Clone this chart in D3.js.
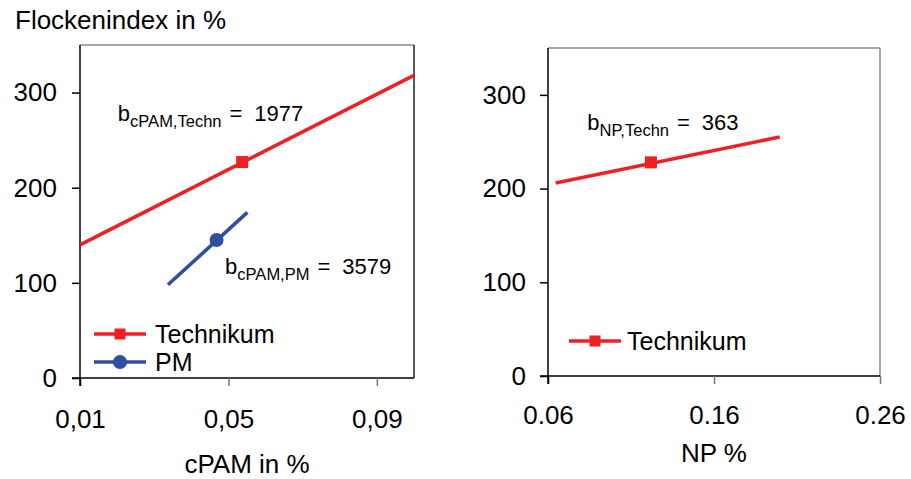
<!DOCTYPE html>
<html>
<head>
<meta charset="utf-8">
<script src="https://cdn.jsdelivr.net/npm/d3@7"></script>
<style>
  html, body { margin: 0; padding: 0; background: #fff; }
  svg { display: block; font-family: "Liberation Sans", Arial, sans-serif; }
</style>
</head>
<body>
<svg id="chart" width="911" height="479"></svg>
<script>
// Flockenindex versus polymer dosage: cPAM (left) and NP (right)
const yTicks = [0, 100, 200, 300];
const cpamTicks = [0.01, 0.05, 0.09];
const cpamTickLabels = ["0,01", "0,05", "0,09"];
const npTicks = [0.06, 0.16, 0.26];
const npTickLabels = ["0.06", "0.16", "0.26"];

// Technikum, cPAM: regression line ends and measured point
const cpamTechnLine = [{x: 0.01, y: 140}, {x: 0.1, y: 318}];
const cpamTechnPoint = [{x: 0.0537, y: 227}];
// PM, cPAM
const cpamPmLine = [{x: 0.0337, y: 98}, {x: 0.0551, y: 174}];
const cpamPmPoint = [{x: 0.0468, y: 145}];
// Technikum, NP
const npTechnLine = [{x: 0.0646, y: 206}, {x: 0.1996, y: 255}];
const npTechnPoint = [{x: 0.122, y: 228}];

const slopeLabels = [
  {panel: "cpam", main: "b", sub: "cPAM,Techn", value: "1977", x: 0.0202, y: 270},
  {panel: "cpam", main: "b", sub: "cPAM,PM", value: "3579", x: 0.0491, y: 109},
  {panel: "np", main: "b", sub: "NP,Techn", value: "363", x: 0.0837, y: 262}
];

const RED = "#ed2024";
const BLUE = "#2f4f9f";
const FS = 26;

const svg = d3.select("#chart");

function panel(cfg) {
  const x = d3.scaleLinear().domain(cfg.xDomain).range([cfg.left, cfg.right]);
  const y = d3.scaleLinear().domain([0, 350]).range([cfg.bottom, cfg.top]);
  const g = svg.append("g");

  // frame: top and right edges
  g.append("line").attr("x1", cfg.left).attr("x2", cfg.right)
    .attr("y1", cfg.top).attr("y2", cfg.top)
    .attr("stroke", "#8a8a8a").attr("stroke-width", 1.5);
  g.append("line").attr("x1", cfg.right).attr("x2", cfg.right)
    .attr("y1", cfg.top).attr("y2", cfg.bottom)
    .attr("stroke", cfg.rightColor).attr("stroke-width", 1.5);

  const yAxis = d3.axisLeft(y).tickValues(yTicks).tickSize(8).tickPadding(cfg.yPad);
  const ya = g.append("g").attr("transform", `translate(${cfg.left},0)`).call(yAxis);
  ya.attr("font-size", FS).attr("font-family", "Liberation Sans, Arial, sans-serif");
  ya.select(".domain").attr("d", `M0,${cfg.top}V${cfg.bottom + 8}`).attr("stroke", "#000").attr("stroke-width", 1.5);
  ya.selectAll(".tick line").attr("stroke", "#000").attr("stroke-width", 1.5);
  ya.selectAll(".tick text").attr("fill", "#000");

  const xAxis = d3.axisBottom(x).tickValues(cfg.xTicks)
    .tickFormat((d, i) => cfg.xTickLabels[i]).tickSize(8).tickPadding(cfg.xPad);
  const xa = g.append("g").attr("transform", `translate(0,${cfg.bottom})`).call(xAxis);
  xa.attr("font-size", FS).attr("font-family", "Liberation Sans, Arial, sans-serif");
  xa.select(".domain").attr("d", `M${cfg.left - 8},0H${cfg.right}`).attr("stroke", "#000").attr("stroke-width", 1.5);
  xa.selectAll(".tick line").attr("stroke", (d, i) => i === 0 ? "#000" : "#777").attr("stroke-width", 1.5);
  xa.selectAll(".tick text").attr("fill", "#000");

  g.append("text").attr("x", (cfg.left + cfg.right) / 2).attr("y", cfg.xLabelY)
    .attr("text-anchor", "middle").attr("font-size", FS).text(cfg.xLabel);

  const line = d3.line().x(d => x(d.x)).y(d => y(d.y));
  cfg.series.forEach(s => {
    g.append("path").datum(s.line).attr("d", line)
      .attr("fill", "none").attr("stroke", s.color).attr("stroke-width", 3.6);
    const p = s.point[0];
    if (s.shape === "square") {
      g.append("rect").attr("x", x(p.x) - 6).attr("y", y(p.y) - 6)
        .attr("width", 12).attr("height", 12).attr("fill", s.color);
    } else {
      g.append("circle").attr("cx", x(p.x)).attr("cy", y(p.y)).attr("r", 7).attr("fill", s.color);
    }
  });

  slopeLabels.filter(l => l.panel === cfg.name).forEach(l => {
    const t = g.append("text").attr("x", x(l.x)).attr("y", y(l.y)).attr("font-size", 22);
    t.append("tspan").text(l.main);
    t.append("tspan").attr("font-size", 16.5).attr("dy", 6).text(l.sub);
    t.append("tspan").attr("dy", -6).attr("dx", 8).text("=");
    t.append("tspan").attr("dx", 12).text(l.value);
  });

  // legend
  cfg.legend.forEach((s, i) => {
    const ly = cfg.legendY + i * 28;
    g.append("line").attr("x1", cfg.legendX).attr("x2", cfg.legendX + 52)
      .attr("y1", ly).attr("y2", ly).attr("stroke", s.color).attr("stroke-width", 3.6);
    const cx = cfg.legendX + 26;
    if (s.shape === "square") {
      g.append("rect").attr("x", cx - 5.5).attr("y", ly - 5.5).attr("width", 11).attr("height", 11).attr("fill", s.color);
    } else {
      g.append("circle").attr("cx", cx).attr("cy", ly).attr("r", 7).attr("fill", s.color);
    }
    g.append("text").attr("x", cfg.legendX + cfg.legendTextDx).attr("y", ly + 9)
      .attr("font-size", 25).text(s.name);
  });
}

const technCpam = {name: "Technikum", color: RED, shape: "square", line: cpamTechnLine, point: cpamTechnPoint};
const pmCpam = {name: "PM", color: BLUE, shape: "circle", line: cpamPmLine, point: cpamPmPoint};
const technNp = {name: "Technikum", color: RED, shape: "square", line: npTechnLine, point: npTechnPoint};

panel({
  name: "cpam", left: 80, right: 414, top: 45, bottom: 378,
  xDomain: [0.01, 0.1], xTicks: cpamTicks, xTickLabels: cpamTickLabels,
  xLabel: "cPAM in %", xLabelY: 473, rightColor: "#222",
  yPad: 15, xPad: 24,
  series: [technCpam, pmCpam], legend: [technCpam, pmCpam],
  legendX: 94, legendY: 334, legendTextDx: 61
});

panel({
  name: "np", left: 548, right: 880, top: 48, bottom: 376,
  xDomain: [0.06, 0.26], xTicks: npTicks, xTickLabels: npTickLabels,
  xLabel: "NP %", xLabelY: 462, rightColor: "#8a8a8a",
  yPad: 14, xPad: 22,
  series: [technNp], legend: [technNp],
  legendX: 569, legendY: 341, legendTextDx: 58
});

svg.append("text").attr("x", 15).attr("y", 29).attr("font-size", FS)
  .text("Flockenindex in %");
</script>
</body>
</html>
